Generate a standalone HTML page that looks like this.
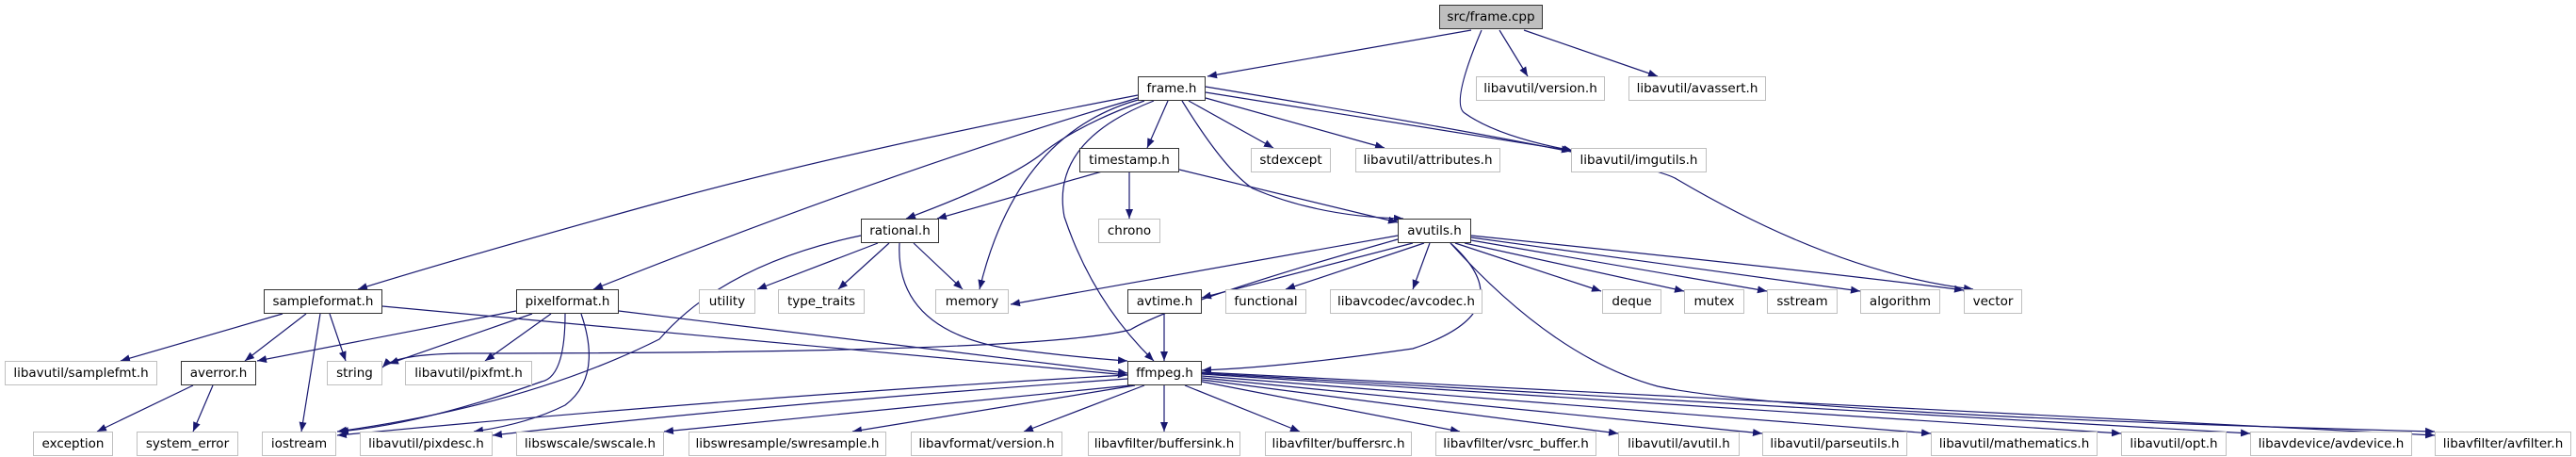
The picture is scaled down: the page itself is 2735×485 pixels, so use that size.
<!DOCTYPE html>
<html><head><meta charset="utf-8"><style>
html,body{margin:0;padding:0;background:#fff;}
body{width:2735px;height:485px;position:relative;overflow:hidden;font-family:"DejaVu Sans","Liberation Sans",sans-serif;}
.n{position:absolute;height:26px;box-sizing:border-box;border:1.3px solid #bfbfbf;background:#fff;font-size:13.5px;line-height:24px;text-align:center;color:#000;white-space:nowrap;}
.d{border:1.6px solid #333;}
.g{background:#bfbfbf;border:1.6px solid #333;}
svg{position:absolute;left:0;top:0;}
</style></head><body>
<svg width="2735" height="485" viewBox="0 0 2735 485">
<defs><marker id="a" markerUnits="userSpaceOnUse" markerWidth="11" markerHeight="8" refX="10" refY="4" orient="auto"><path d="M0,0 L10,4 L0,8 z" fill="#191970"/></marker></defs>
<g fill="none" stroke="#191970" stroke-width="1.2" marker-end="url(#a)">
<path d="M1562,32 L1282,81"/>
<path d="M1592,32 L1622,81"/>
<path d="M1618,32 L1760,81"/>
<path d="M1573,32 Q1540,110 1555,120 Q1590,145 1670,160"/>
<path d="M1240,107 L1218,157"/>
<path d="M1262,107 L1352,157"/>
<path d="M1280,104 L1470,157"/>
<path d="M1280,98 L1668,160"/>
<path d="M1280,92 Q1750,170 1780,190 Q1950,290 2095,307"/>
<path d="M1215,107 Q1150,130 1110,160 Q1075,190 962,232"/>
<path d="M1212,105 Q1080,140 1040,307"/>
<path d="M1225,107 Q1115,150 1130,230 Q1160,320 1225,383"/>
<path d="M1255,107 Q1300,180 1330,200 Q1400,230 1490,232"/>
<path d="M1208,101 Q900,160 700,215 Q500,270 380,307"/>
<path d="M1208,104 Q950,180 630,307"/>
<path d="M1199,182 L1199,232"/>
<path d="M1170,182 L995,232"/>
<path d="M1252,180 L1484,236"/>
<path d="M932,258 L804,307"/>
<path d="M944,258 L890,307"/>
<path d="M970,258 L1022,307"/>
<path d="M955,258 Q950,350 1070,370 Q1150,380 1197,383"/>
<path d="M914,250 Q770,280 700,360 Q560,430 358,458"/>
<path d="M1484,250 L1073,323"/>
<path d="M1484,254 Q1250,320 1200,350 Q1100,375 500,375 Q420,375 406,390"/>
<path d="M1500,258 L1276,316"/>
<path d="M1512,258 L1365,307"/>
<path d="M1518,258 L1500,307"/>
<path d="M1545,258 L1700,309"/>
<path d="M1555,258 L1788,309"/>
<path d="M1562,255 L1876,309"/>
<path d="M1562,252 L1975,309"/>
<path d="M1562,250 Q1950,290 2085,308"/>
<path d="M1540,258 Q1620,330 1500,370 Q1360,390 1276,393"/>
<path d="M1540,258 Q1650,380 1760,410 Q1900,440 2585,458"/>
<path d="M1236,333 L1236,383"/>
<path d="M300,333 L128,383"/>
<path d="M325,333 L260,383"/>
<path d="M350,333 L367,383"/>
<path d="M340,333 L320,458"/>
<path d="M406,325 L1197,398"/>
<path d="M548,330 L273,383"/>
<path d="M565,333 L413,386"/>
<path d="M585,333 L515,383"/>
<path d="M600,333 Q600,400 575,405 Q450,450 360,458"/>
<path d="M617,333 Q640,400 600,430 Q560,450 503,458"/>
<path d="M657,330 L1197,396"/>
<path d="M205,409 L103,458"/>
<path d="M226,409 L205,458"/>
<path d="M1197,398 Q800,420 358,462"/>
<path d="M1197,402 Q800,430 523,462"/>
<path d="M1200,409 L705,458"/>
<path d="M1205,409 L905,458"/>
<path d="M1215,409 L1087,458"/>
<path d="M1236,409 L1236,458"/>
<path d="M1258,409 L1380,458"/>
<path d="M1276,405 L1550,458"/>
<path d="M1276,403 L1718,460"/>
<path d="M1276,401 L1871,460"/>
<path d="M1276,399 L2050,460"/>
<path d="M1276,397 L2252,460"/>
<path d="M1276,396 L2389,460"/>
<path d="M1276,395 Q2000,430 2585,462"/>
</g>
</svg>
<div class="n g" style="left:1528px;top:5px;width:110px;">src/frame.cpp</div>
<div class="n d" style="left:1208px;top:81px;width:72px;">frame.h</div>
<div class="n" style="left:1567px;top:81px;width:137px;">libavutil/version.h</div>
<div class="n" style="left:1729px;top:81px;width:146px;">libavutil/avassert.h</div>
<div class="n d" style="left:1146px;top:157px;width:106px;">timestamp.h</div>
<div class="n" style="left:1328px;top:157px;width:85px;">stdexcept</div>
<div class="n" style="left:1439px;top:157px;width:154px;">libavutil/attributes.h</div>
<div class="n" style="left:1668px;top:157px;width:144px;">libavutil/imgutils.h</div>
<div class="n" style="left:1166px;top:232px;width:66px;">chrono</div>
<div class="n d" style="left:914px;top:232px;width:83px;">rational.h</div>
<div class="n d" style="left:1484px;top:232px;width:78px;">avutils.h</div>
<div class="n d" style="left:280px;top:307px;width:126px;">sampleformat.h</div>
<div class="n d" style="left:548px;top:307px;width:109px;">pixelformat.h</div>
<div class="n" style="left:742px;top:307px;width:60px;">utility</div>
<div class="n" style="left:826px;top:307px;width:92px;">type_traits</div>
<div class="n" style="left:993px;top:307px;width:78px;">memory</div>
<div class="n d" style="left:1197px;top:307px;width:79px;">avtime.h</div>
<div class="n" style="left:1301px;top:307px;width:86px;">functional</div>
<div class="n" style="left:1412px;top:307px;width:162px;">libavcodec/avcodec.h</div>
<div class="n" style="left:1701px;top:307px;width:63px;">deque</div>
<div class="n" style="left:1788px;top:307px;width:64px;">mutex</div>
<div class="n" style="left:1876px;top:307px;width:75px;">sstream</div>
<div class="n" style="left:1975px;top:307px;width:85px;">algorithm</div>
<div class="n" style="left:2085px;top:307px;width:62px;">vector</div>
<div class="n" style="left:5px;top:383px;width:162px;">libavutil/samplefmt.h</div>
<div class="n d" style="left:192px;top:383px;width:80px;">averror.h</div>
<div class="n" style="left:347px;top:383px;width:59px;">string</div>
<div class="n" style="left:430px;top:383px;width:135px;">libavutil/pixfmt.h</div>
<div class="n d" style="left:1197px;top:383px;width:79px;">ffmpeg.h</div>
<div class="n" style="left:35px;top:458px;width:85px;">exception</div>
<div class="n" style="left:145px;top:458px;width:108px;">system_error</div>
<div class="n" style="left:278px;top:458px;width:79px;">iostream</div>
<div class="n" style="left:382px;top:458px;width:141px;">libavutil/pixdesc.h</div>
<div class="n" style="left:548px;top:458px;width:157px;">libswscale/swscale.h</div>
<div class="n" style="left:731px;top:458px;width:210px;">libswresample/swresample.h</div>
<div class="n" style="left:967px;top:458px;width:161px;">libavformat/version.h</div>
<div class="n" style="left:1155px;top:458px;width:162px;">libavfilter/buffersink.h</div>
<div class="n" style="left:1343px;top:458px;width:156px;">libavfilter/buffersrc.h</div>
<div class="n" style="left:1524px;top:458px;width:171px;">libavfilter/vsrc_buffer.h</div>
<div class="n" style="left:1718px;top:458px;width:129px;">libavutil/avutil.h</div>
<div class="n" style="left:1871px;top:458px;width:154px;">libavutil/parseutils.h</div>
<div class="n" style="left:2050px;top:458px;width:177px;">libavutil/mathematics.h</div>
<div class="n" style="left:2252px;top:458px;width:112px;">libavutil/opt.h</div>
<div class="n" style="left:2389px;top:458px;width:172px;">libavdevice/avdevice.h</div>
<div class="n" style="left:2585px;top:458px;width:145px;">libavfilter/avfilter.h</div>
</body></html>
